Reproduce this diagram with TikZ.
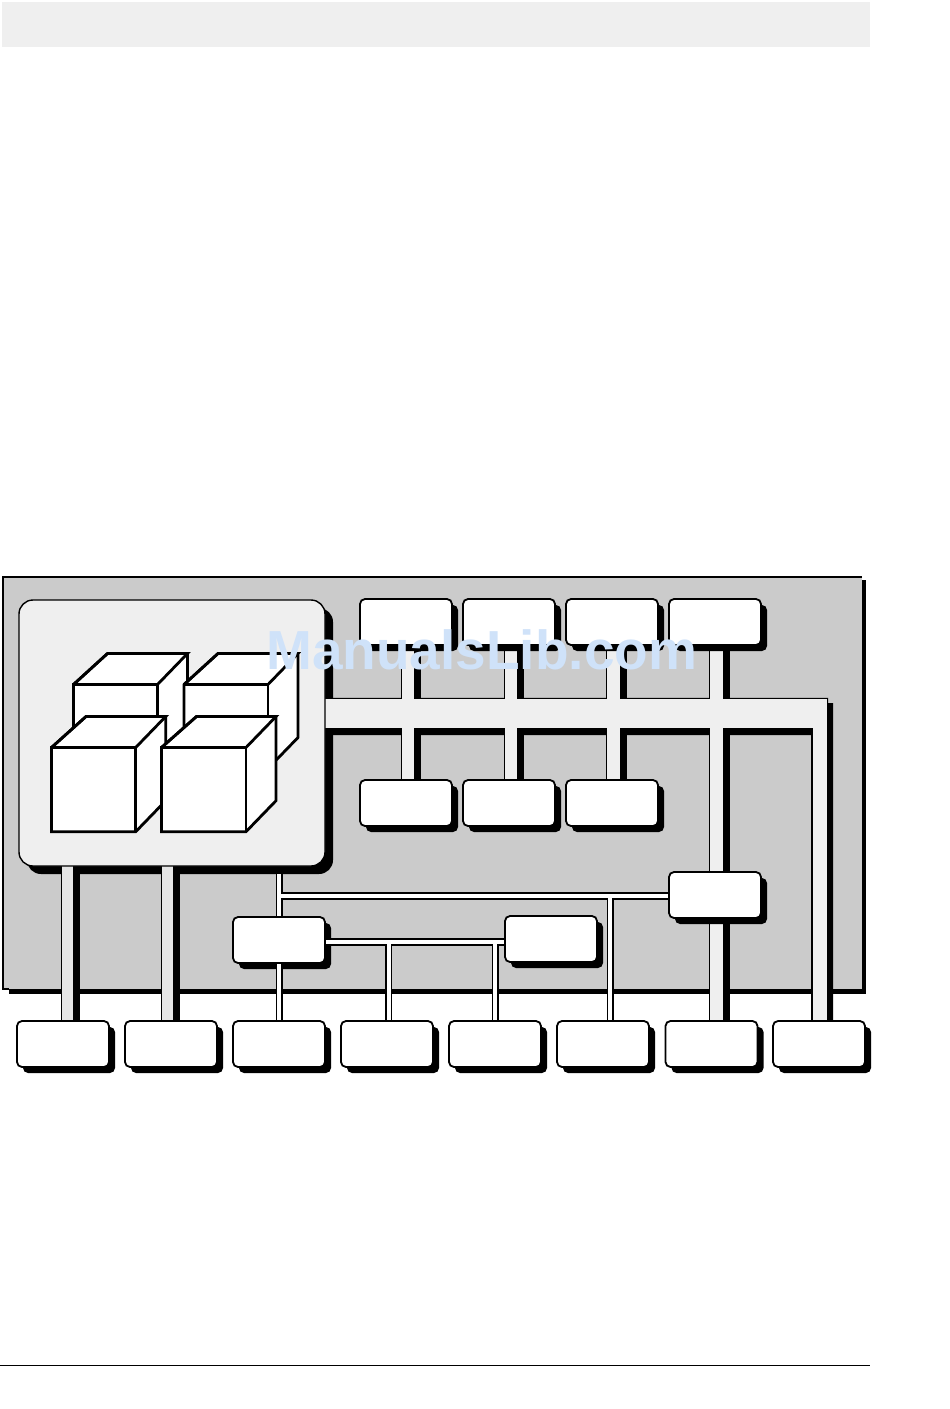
\documentclass[tikz,border=0pt]{standalone}
\usepackage{fontspec}
\setmainfont{Liberation Sans}
\definecolor{panelgray}{HTML}{CBCBCB}
\definecolor{lightfill}{HTML}{EFEFEF}
\definecolor{paleBar}{HTML}{E5E5E5}
\definecolor{markblue}{HTML}{CFE2F9}
\pgfdeclarelayer{panelL}
\pgfdeclarelayer{lowL}
\pgfdeclarelayer{busblack}
\pgfdeclarelayer{buslight}
\pgfsetlayers{panelL,lowL,busblack,buslight,main}
\tikzset{
  boxbase/.style={rectangle,rounded corners=5pt,minimum width=92pt,minimum height=46pt,inner sep=0pt,outer sep=0pt},
  whitebox/.style={boxbase,draw=black,line width=1.8pt,fill=white},
  shadebox/.style={boxbase,fill=black},
  cubeface/.style={draw=black,fill=white,line width=2.8pt,line join=miter},
  mainblock/.style={rectangle,rounded corners=14pt,minimum width=306pt,minimum height=266pt,inner sep=0pt,outer sep=0pt},
  wideblack/.style={draw=black,line width=#1pt+8pt,transform canvas={xshift=2.5pt}},
  widelight/.style={draw=lightfill,line width=#1pt},
  thinblack/.style={draw=black,line width=#1},
  thinwhite/.style={draw=white,line width=#1}
}
\newcommand{\boxat}[4][main]{%
  \begin{pgfonlayer}{#1}\node[shadebox] (#2s) at (#3+6,#4+6) {};\end{pgfonlayer}
  \node[whitebox] (#2) at (#3,#4) {};}
\newcommand{\widebus}[4][lightfill]{%
  \begin{pgfonlayer}{busblack}\draw[wideblack=#4] #2 -- #3;\end{pgfonlayer}
  \begin{pgfonlayer}{buslight}\draw[widelight=#4,draw=#1] #2 -- #3;\end{pgfonlayer}}
\newcommand{\thinbus}[3]{%
  \begin{pgfonlayer}{busblack}\draw[thinblack=#1] #2 -- #3;\end{pgfonlayer}
  \begin{pgfonlayer}{buslight}\draw[thinwhite=#1-3.7pt] #2 -- #3;\end{pgfonlayer}}
\newcommand{\cube}[6]{% front left, right, top, bottom, back dx left, dx right
  \filldraw[cubeface] (#1,#3) -- (#1+#5,#3-31) -- (#2+#6,#3-31) -- (#2+#6,#4-31) -- (#2,#4) -- (#1,#4) -- cycle;
  \draw[cubeface,fill=none] (#1,#4) -- (#1,#3) -- (#2,#3) -- (#2,#4);
  \draw[cubeface,fill=none] (#1,#3) -- (#1+#5,#3-31) -- (#2+#6,#3-31) -- (#2,#3);}
\begin{document}
\begin{tikzpicture}[x=1pt,y=-1pt]
\useasboundingbox (0,0) rectangle (950,1409);
\begin{pgfonlayer}{panelL}
  \fill[white] (0,0) rectangle (950,1409);
  \fill[lightfill] (2,2) rectangle (870,46.5);
  \draw[black,line width=1pt] (0,1365.5) -- (870,1365.5);
  % panel
  \fill[black] (9,580) rectangle (866,994);
  \fill[panelgray] (3,577.5) rectangle (862,988.5);
  \draw[black,line width=2.2pt] (862,577.3) -- (3.2,577.3) -- (3.2,989) -- (9,989);
\end{pgfonlayer}

% main block
\begin{pgfonlayer}{lowL}
  \node[mainblock,fill=black] (mainS) at (180,741) {};
\end{pgfonlayer}
\node[mainblock,draw=black,line width=1.4pt,fill=lightfill] (main) at (172,733) {};

% cubes
\cube{73.5}{157.5}{684.5}{768.5}{34}{30}
\cube{184}{268}{684.5}{768.5}{34}{30}
\cube{51.5}{135.7}{747.5}{831.7}{34.5}{30}
\cube{161.5}{246}{747.5}{831.7}{35}{30}

% boxes
\boxat{T1}{406}{622}
\boxat{T2}{509}{622}
\boxat{T3}{612}{622}
\boxat{T4}{715}{622}
\boxat{M1}{406}{803}
\boxat{M2}{509}{803}
\boxat{M3}{612}{803}
\boxat[lowL]{P}{279}{940}
\boxat{Q}{551}{939}
\boxat{R}{715}{895}
\boxat{B1}{63}{1044}
\boxat{B2}{171}{1044}
\boxat{B3}{279}{1044}
\boxat{B4}{387}{1044}
\boxat{B5}{495}{1044}
\boxat{B6}{603}{1044}
\boxat{B7}{711.5}{1044}
\boxat{B8}{819}{1044}

% named points on the buses
\coordinate (c1) at ([xshift=2pt]T1.south);
\coordinate (c2) at ([xshift=2pt]T2.south);
\coordinate (c3) at ([xshift=1.5pt]T3.south);
\coordinate (c4) at ([xshift=1.8pt]T4.south);
\coordinate (b1) at ([xshift=4.5pt]B1.north);
\coordinate (b2) at ([xshift=-3.5pt]B2.north);
\coordinate (b4) at ([xshift=1.9pt]B4.north);
\coordinate (b5) at (B5.north);
\coordinate (b6) at ([xshift=7pt]B6.north);
\coordinate (busL) at (main.east |- 0,713.5);
\coordinate (busC) at (819.75,713.5);
\coordinate (busR) at (826.9,713.5);
\coordinate (upJ) at (B3.north |- 0,896);
\coordinate (midL) at (P.east |- 0,942.2);
\coordinate (upS) at (B3.north |- mainS.south);

% wide buses
\widebus{(c1)}{(c1 |- M1.north)}{12}
\widebus{(c2)}{(c2 |- M2.north)}{12}
\widebus{(c3)}{(c3 |- M3.north)}{13}
\widebus{(c4)}{(c4 |- R.north)}{13}
\widebus{(c4 |- R.south)}{(c4 |- B7.north)}{13}
\widebus[paleBar]{(b1 |- main.south)}{(b1)}{11}
\widebus[paleBar]{(b2 |- main.south)}{(b2)}{11}

% main horizontal bus with its return to the last box
\begin{pgfonlayer}{busblack}
  \fill[black] (325,697.8) -- (828,697.8) -- (828,703) -- (833,703) -- (833,1021) -- (811,1021) -- (811,735) -- (325,735) -- cycle;
\end{pgfonlayer}
\begin{pgfonlayer}{buslight}
  \draw[lightfill,line width=29pt] (busL) -- (busR);
  \draw[lightfill,line width=14.5pt] (busC) -- (busC |- B8.north);
\end{pgfonlayer}

% thin buses
\thinbus{7pt}{(upS)}{(P.north)}
\thinbus{7pt}{(P.south)}{(B3.north)}
\thinbus{8pt}{(upJ)}{(R.west |- upJ)}
\thinbus{7pt}{(b6 |- upJ)}{(b6)}
\thinbus{8pt}{(midL)}{(Q.west |- midL)}
\thinbus{7pt}{(b4 |- midL)}{(b4)}
\thinbus{7pt}{(b5 |- midL)}{(b5)}

% text
\node[anchor=base west,inner sep=0pt,text=markblue,font=\fontsize{55pt}{60pt}\selectfont\bfseries] (mark) at (266,669) {ManualsLib.com};
\end{tikzpicture}
\end{document}
